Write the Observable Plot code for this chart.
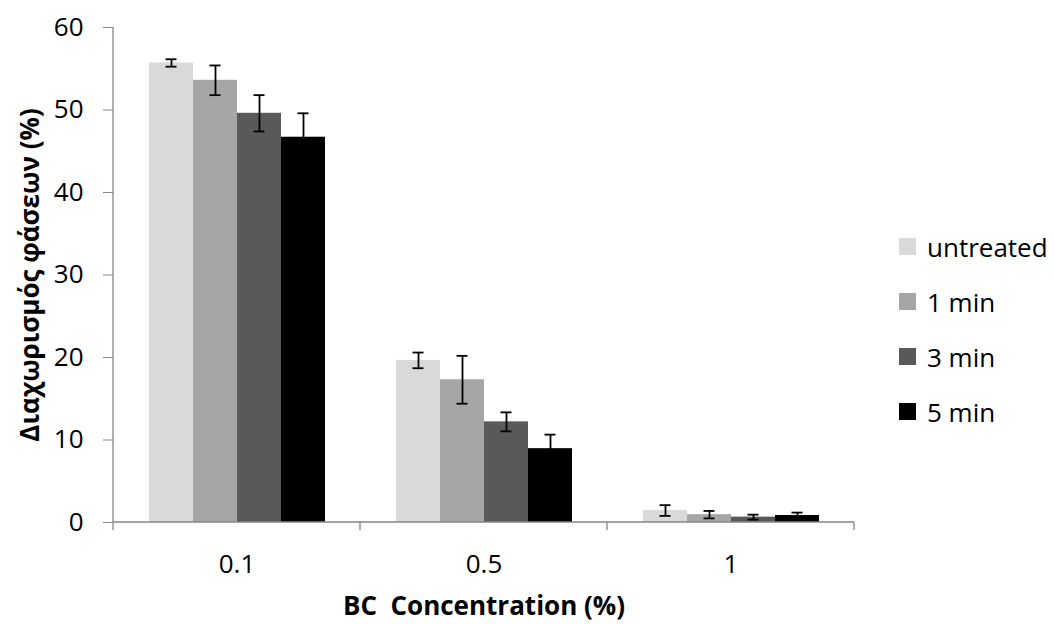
<!DOCTYPE html>
<html>
<head>
<meta charset="utf-8">
<script src="https://cdn.jsdelivr.net/npm/d3@7"></script>
<script src="https://cdn.jsdelivr.net/npm/@observablehq/plot@0.6"></script>
<style>
  body { margin: 0; background: #fff; }
  #wrap { position: relative; width: 1054px; height: 624px; font-family: "Open Sans", sans-serif; }
  #legend { position: absolute; left: 899px; top: 219px; }
  .item { display: flex; align-items: center; height: 55px; font-size: 26px; color: #000; }
  .sw { width: 17px; height: 17px; margin-right: 11px; }
  svg [aria-label="y-axis label"], svg [aria-label="fx-axis label"] { font-weight: bold; font-size: 26px; }
</style>
</head>
<body>
<div id="wrap"></div>
<script>
const concentrations = ["0.1", "0.5", "1"];
const series = ["untreated", "1 min", "3 min", "5 min"];
const colors = ["#d9d9d9", "#a6a6a6", "#595959", "#000000"];
const yTicks = [0, 10, 20, 30, 40, 50, 60];

// values per series, one entry per concentration
const untreatedValues = [55.7, 19.65, 1.45];
const min1Values = [53.6, 17.3, 0.95];
const min3Values = [49.6, 12.2, 0.65];
const min5Values = [46.7, 8.95, 0.85];

// error (±) per series
const untreatedErr = [0.45, 0.95, 0.65];
const min1Err = [1.8, 2.9, 0.45];
const min3Err = [2.2, 1.15, 0.3];
const min5Err = [2.9, 1.7, 0.35];

const valueArrays = [untreatedValues, min1Values, min3Values, min5Values];
const errArrays = [untreatedErr, min1Err, min3Err, min5Err];

const data = [];
series.forEach((s, si) => {
  concentrations.forEach((c, ci) => {
    data.push({conc: c, series: s, value: valueArrays[si][ci], err: errArrays[si][ci]});
  });
});

const axisGray = "#868686";

const chart = Plot.plot({
  width: 1054,
  height: 624,
  marginLeft: 113,
  marginRight: 200,
  marginTop: 27,
  marginBottom: 102,
  style: {fontFamily: "'Open Sans', sans-serif", fontSize: "26px", color: "#000", background: "#fff"},
  fx: {domain: concentrations, padding: 0},
  x: {domain: series, paddingInner: 0, paddingOuter: 0.745, axis: null},
  y: {domain: [0, 60]},
  color: {domain: series, range: colors},
  marks: [
    Plot.axisY({ticks: yTicks, tickSize: 10, tickPadding: 20, stroke: axisGray, fill: "#000", fontSize: 26,
      label: "Διαχωρισμός φάσεων (%)", labelAnchor: "center", labelOffset: 93, labelArrow: false}),
    Plot.axisFx({anchor: "bottom", tickSize: 0, tickPadding: 32, fontSize: 26,
      label: "BC\u00a0 Concentration (%)", labelAnchor: "center", labelOffset: 92, labelArrow: false}),
    Plot.barY(data, {fx: "conc", x: "series", y: "value", fill: "series"}),
    Plot.ruleX(data, {fx: "conc", x: "series", y1: d => d.value - d.err, y2: d => d.value + d.err, stroke: "#000", strokeWidth: 1.8}),
    Plot.tickY(data, {fx: "conc", x: "series", y: d => d.value + d.err, stroke: "#000", strokeWidth: 1.8, inset: 16.5}),
    Plot.tickY(data, {fx: "conc", x: "series", y: d => d.value - d.err, stroke: "#000", strokeWidth: 1.8, inset: 16.5})
  ]
});

// axis lines built from the plot's own scales
const fxs = chart.scale("fx");
const ys = chart.scale("y");
const yScale = d3.scaleLinear(ys.domain, ys.range);
const x0 = fxs.range[0], x1 = fxs.range[1];
const step = (x1 - x0) / fxs.domain.length;
const svg = d3.select(chart.tagName.toLowerCase() === "svg" ? chart : chart.querySelector("svg"));
const g = svg.append("g").attr("stroke", axisGray).attr("stroke-width", 1.3);
g.append("line").attr("x1", x0).attr("x2", x0).attr("y1", yScale(0)).attr("y2", yScale(60));
g.append("line").attr("x1", x0).attr("x2", x1).attr("y1", yScale(0)).attr("y2", yScale(0));
d3.range(fxs.domain.length + 1).forEach(i => {
  const xx = x0 + i * step;
  g.append("line").attr("x1", xx).attr("x2", xx).attr("y1", yScale(0)).attr("y2", yScale(0) + 8);
});

const wrap = document.getElementById("wrap");
wrap.appendChild(chart);

const legend = document.createElement("div");
legend.id = "legend";
series.forEach((s, i) => {
  const item = document.createElement("div");
  item.className = "item";
  const sw = document.createElement("span");
  sw.className = "sw";
  sw.style.background = colors[i];
  const t = document.createElement("span");
  t.textContent = s;
  item.appendChild(sw);
  item.appendChild(t);
  legend.appendChild(item);
});
wrap.appendChild(legend);
</script>
</body>
</html>
